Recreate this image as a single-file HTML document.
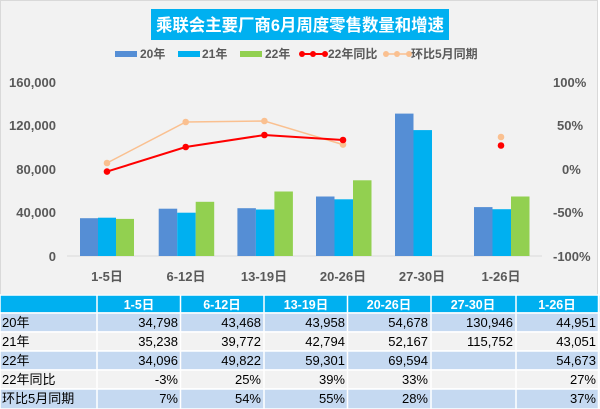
<!DOCTYPE html>
<html><head><meta charset="utf-8"><style>
body{margin:0;background:#fff;}
svg{display:block;font-family:"Liberation Sans","Noto Sans CJK SC",sans-serif;}
</style></head><body>
<svg width="600" height="409" viewBox="0 0 600 409">
<rect x="0.5" y="0.5" width="597" height="294" fill="#f2f2f2" stroke="#d9d9d9"/>
<rect x="151" y="9" width="298" height="31" fill="#00b0f0"/>
<text x="156" y="31" font-size="17" font-weight="bold" fill="#fff" textLength="288" lengthAdjust="spacingAndGlyphs">乘联会主要厂商6月周度零售数量和增速</text>
<g font-size="12" font-weight="bold" fill="#595959">
<rect x="115" y="51" width="22" height="6" fill="#558ed5"/><text x="140" y="58">20年</text>
<rect x="178" y="51" width="22" height="6" fill="#00b0f0"/><text x="202" y="58">21年</text>
<rect x="240" y="51" width="22" height="6" fill="#92d050"/><text x="265" y="58">22年</text>
<line x1="300" y1="54" x2="326" y2="54" stroke="#ff0000" stroke-width="2"/><circle cx="302" cy="54" r="3" fill="#f00"/><circle cx="313" cy="54" r="3" fill="#f00"/><circle cx="325" cy="54" r="3" fill="#f00"/><text x="328" y="58">22年同比</text>
<line x1="384" y1="54" x2="410" y2="54" stroke="#fac090" stroke-width="1.5"/><circle cx="386" cy="54" r="3" fill="#fac090"/><circle cx="397" cy="54" r="3" fill="#fac090"/><circle cx="409" cy="54" r="3" fill="#fac090"/><text x="411" y="58">环比5月同期</text>
</g>
<g font-size="13" font-weight="bold" fill="#595959" text-anchor="end">
<text x="56" y="87">160,000</text><text x="56" y="130">120,000</text><text x="56" y="174">80,000</text><text x="56" y="217">40,000</text><text x="56" y="261">0</text>
</g>
<g font-size="13" font-weight="bold" fill="#595959">
<text x="553" y="87">100%</text><text x="557" y="130">50%</text><text x="562" y="174">0%</text><text x="553" y="217">-50%</text><text x="553" y="261">-100%</text>
</g>
<line x1="67" y1="256" x2="542" y2="256" stroke="#d9d9d9"/>
<g>
<rect x="80" y="218.2" width="18" height="37.8" fill="#558ed5"/><rect x="98" y="217.7" width="18" height="38.3" fill="#00b0f0"/><rect x="116" y="218.9" width="18" height="37.1" fill="#92d050"/>
<rect x="158.7" y="208.7" width="18.5" height="47.3" fill="#558ed5"/><rect x="177.2" y="212.7" width="18.5" height="43.3" fill="#00b0f0"/><rect x="195.7" y="201.8" width="18.5" height="54.2" fill="#92d050"/>
<rect x="237.4" y="208.2" width="18.5" height="47.8" fill="#558ed5"/><rect x="255.9" y="209.5" width="18.5" height="46.5" fill="#00b0f0"/><rect x="274.4" y="191.5" width="18.5" height="64.5" fill="#92d050"/>
<rect x="316" y="196.5" width="18.5" height="59.5" fill="#558ed5"/><rect x="334.5" y="199.3" width="18.5" height="56.7" fill="#00b0f0"/><rect x="353" y="180.3" width="18.5" height="75.7" fill="#92d050"/>
<rect x="395" y="113.6" width="18.5" height="142.4" fill="#558ed5"/><rect x="413.5" y="130.1" width="18.5" height="125.9" fill="#00b0f0"/>
<rect x="474" y="207.1" width="18.5" height="48.9" fill="#558ed5"/><rect x="492.5" y="209.2" width="18.5" height="46.8" fill="#00b0f0"/><rect x="511" y="196.5" width="18.5" height="59.5" fill="#92d050"/>
</g>
<polyline points="107,163 185.7,122 264.4,121 343,144.6" fill="none" stroke="#fac090" stroke-width="1.5"/>
<g fill="#fac090"><circle cx="107" cy="163" r="3.3"/><circle cx="185.7" cy="122" r="3.3"/><circle cx="264.4" cy="121" r="3.3"/><circle cx="343" cy="144.6" r="3.3"/><circle cx="501" cy="137" r="3.3"/></g>
<polyline points="107,171.6 185.7,147 264.4,135 343,140" fill="none" stroke="#ff0000" stroke-width="2"/>
<g fill="#ff0000"><circle cx="107" cy="171.6" r="3.3"/><circle cx="185.7" cy="147" r="3.3"/><circle cx="264.4" cy="135" r="3.3"/><circle cx="343" cy="140" r="3.3"/><circle cx="501" cy="145.5" r="3.3"/></g>
<g font-size="13" font-weight="bold" fill="#595959" text-anchor="middle">
<text x="107" y="281">1-5日</text><text x="186" y="281">6-12日</text><text x="264" y="281">13-19日</text><text x="343" y="281">20-26日</text><text x="422" y="281">27-30日</text><text x="501" y="281">1-26日</text>
</g>
<g stroke="#fff" stroke-width="1.5">
<rect x="0" y="295" width="600" height="18" fill="#00b0f0"/>
<rect x="0" y="313" width="600" height="19" fill="#c5d9f1"/>
<rect x="0" y="332" width="600" height="19" fill="#f2f2f2"/>
<rect x="0" y="351" width="600" height="19" fill="#c5d9f1"/>
<rect x="0" y="370" width="600" height="19" fill="#f2f2f2"/>
<rect x="0" y="389" width="600" height="20" fill="#c5d9f1"/>
<line x1="97" y1="295" x2="97" y2="409"/><line x1="180.5" y1="295" x2="180.5" y2="409"/><line x1="264" y1="295" x2="264" y2="409"/><line x1="347.5" y1="295" x2="347.5" y2="409"/><line x1="431" y1="295" x2="431" y2="409"/><line x1="516" y1="295" x2="516" y2="409"/><line x1="598.5" y1="295" x2="598.5" y2="409"/>
</g>
<g font-size="12.5" font-weight="bold" fill="#fff" text-anchor="middle">
<text x="139" y="309">1-5日</text><text x="222" y="309">6-12日</text><text x="306" y="309">13-19日</text><text x="389" y="309">20-26日</text><text x="473" y="309">27-30日</text><text x="557" y="309">1-26日</text>
</g>
<g font-size="13" fill="#000">
<text x="2" y="327">20年</text><text x="2" y="346">21年</text><text x="2" y="365">22年</text><text x="2" y="384">22年同比</text><text x="2" y="403">环比5月同期</text>
</g>
<g font-size="13" fill="#000" text-anchor="end">
<text x="178" y="327">34,798</text><text x="261" y="327">43,468</text><text x="345" y="327">43,958</text><text x="428" y="327">54,678</text><text x="513" y="327">130,946</text><text x="596" y="327">44,951</text>
<text x="178" y="346">35,238</text><text x="261" y="346">39,772</text><text x="345" y="346">42,794</text><text x="428" y="346">52,167</text><text x="513" y="346">115,752</text><text x="596" y="346">43,051</text>
<text x="178" y="365">34,096</text><text x="261" y="365">49,822</text><text x="345" y="365">59,301</text><text x="428" y="365">69,594</text><text x="596" y="365">54,673</text>
<text x="178" y="384">-3%</text><text x="261" y="384">25%</text><text x="345" y="384">39%</text><text x="428" y="384">33%</text><text x="596" y="384">27%</text>
<text x="178" y="403">7%</text><text x="261" y="403">54%</text><text x="345" y="403">55%</text><text x="428" y="403">28%</text><text x="596" y="403">37%</text>
</g>
</svg>
</body></html>
